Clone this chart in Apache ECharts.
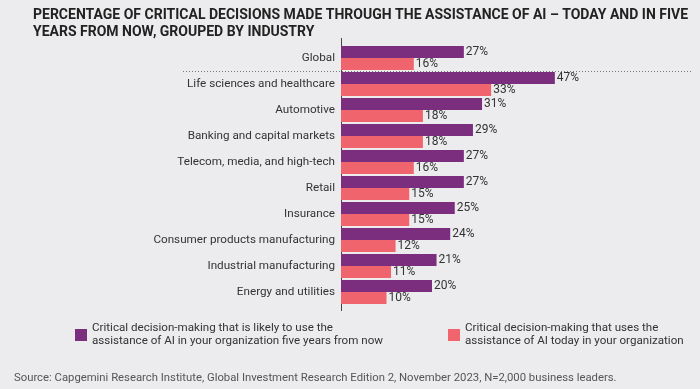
<!DOCTYPE html>
<html><head><meta charset="utf-8">
<script src="https://cdn.jsdelivr.net/npm/echarts@6/dist/echarts.min.js"></script>
<style>html,body{margin:0;padding:0;background:#ececee;}#c{width:700px;height:389px;}</style>
</head><body><div id="c"></div>
<script>
const categories = ["Global","Life sciences and healthcare","Automotive","Banking and capital markets","Telecom, media, and high-tech","Retail","Insurance","Consumer products manufacturing","Industrial manufacturing","Energy and utilities"];
const futureValues = [27,47,31,29,27,27,25,24,21,20];
const todayValues = [16,33,18,18,16,15,15,12,11,10];
const futureName = "Critical decision-making that is likely to use the\nassistance of AI in your organization five years from now";
const todayName = "Critical decision-making that uses the\nassistance of AI today in your organization";
const titleText = "PERCENTAGE OF CRITICAL DECISIONS MADE THROUGH THE ASSISTANCE OF AI \u2013 TODAY AND IN FIVE\nYEARS FROM NOW, GROUPED BY INDUSTRY";
const sourceText = "Source: Capgemini Research Institute, Global Investment Research Edition 2, November 2023, N=2,000 business leaders.";

const FONT = "Roboto";
const chart = echarts.init(document.getElementById('c'), null, {renderer:'canvas'});
const labelStyle = {show:true, position:'right', distance:2, formatter:'{c}%', color:'#333', fontSize:12, fontFamily:FONT};
const legendText = {fontSize:11.6, color:'#333', lineHeight:13, fontFamily:FONT};
chart.setOption({
  backgroundColor:'#ececee',
  textStyle:{fontFamily:FONT},
  title:{text:titleText, left:28, top:2, textStyle:{fontSize:14, fontWeight:'bold', color:'#222', lineHeight:17, fontFamily:FONT}},
  grid:{left:341, top:45, height:260, width:273, containLabel:false},
  xAxis:{type:'value', min:0, max:60, show:false},
  yAxis:{type:'category', data:categories, inverse:true,
    axisLine:{show:true, lineStyle:{color:'#444', width:1}}, axisTick:{show:false},
    axisLabel:{color:'#333', fontSize:11.7, margin:6, fontFamily:FONT}},
  legend:[
    {data:[futureName], left:75, top:322, padding:0, itemWidth:12, itemHeight:12, itemGap:0, icon:'rect', selectedMode:false,
     textStyle:legendText},
    {data:[todayName], left:448, top:322, padding:0, itemWidth:12, itemHeight:12, itemGap:0, icon:'rect', selectedMode:false,
     textStyle:legendText}
  ],
  series:[
    {name:futureName, type:'bar', data:futureValues, barWidth:12, barGap:'0%', itemStyle:{color:'#7b2e7e'}, label:labelStyle},
    {name:todayName, type:'bar', data:todayValues, barWidth:12, barGap:'0%', itemStyle:{color:'#f0656d'}, label:labelStyle}
  ]
});
// dotted separator between Global and the industries, plus axis extension
const y0 = chart.convertToPixel({yAxisIndex:0}, 0);
const y1 = chart.convertToPixel({yAxisIndex:0}, 1);
const sepY = Math.round((y0 + y1) / 2) + 0.5;
chart.setOption({graphic:[
  {type:'text', left:14, top:373, style:{text:sourceText, fontSize:11.3, fill:'#555', fontFamily:FONT}},
  {type:'line', shape:{x1:183, y1:sepY, x2:691, y2:sepY}, style:{stroke:'#777', lineWidth:1, lineDash:[1,2]}},
  {type:'line', shape:{x1:341.5, y1:38, x2:341.5, y2:311}, style:{stroke:'#444', lineWidth:1}}
]});
</script></body></html>
